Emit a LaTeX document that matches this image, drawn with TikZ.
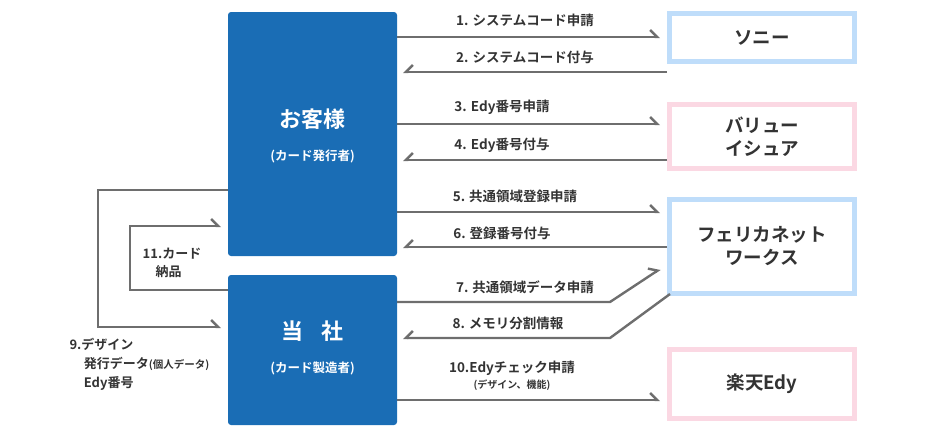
\documentclass[tikz,border=0pt]{standalone}
\usepackage{fontspec}
\setmainfont{Noto Sans CJK JP}[BoldFont={* Bold}]
\usetikzlibrary{arrows.meta}
\definecolor{corpblue}{HTML}{1A6DB5}
\definecolor{paleblue}{HTML}{BFDDFA}
\definecolor{palepink}{HTML}{FBD8E3}
\definecolor{linegray}{HTML}{6E6E6E}
\definecolor{textgray}{HTML}{333333}
\tikzset{
  mainbox/.style={fill=corpblue, rounded corners=3pt, text=white, font=\bfseries, align=center},
  partner/.style={draw=#1, line width=5pt, fill=white, minimum width=185pt, text=textgray, font=\bfseries\fontsize{18.5}{23}\selectfont, align=center},
  flow/.style={draw=linegray, line width=2.4pt},
  toR/.style={flow, -{Straight Barb[left, length=7pt, width=14pt, line width=2.4pt]}},
  toL/.style={flow, -{Straight Barb[right, length=7pt, width=14pt, line width=2.4pt]}},
  lbl/.style={text=textgray, font=\bfseries\fontsize{13.5}{17}\selectfont, align=center}
}
\begin{document}
\begin{tikzpicture}[x=1pt, y=-1pt]
  \useasboundingbox (0,0) rectangle (940,440);
  % main boxes
  \node (client) [mainbox, minimum width=169pt, minimum height=244pt] at (312.5,134) {};
  \node at (312.5,119) [text=white, font=\bfseries\fontsize{22}{26}\selectfont] {お客様};
  \node at (312.5,156) [text=white, font=\bfseries\fontsize{12.5}{15}\selectfont] {(カード発行者)};
  \node (maker) [mainbox, minimum width=169pt, minimum height=150pt] at (312.5,350) {};
  \node at (312.5,331) [text=white, font=\bfseries\fontsize{22}{26}\selectfont] {当\hspace{0.8em}社};
  \node at (312.5,368) [text=white, font=\bfseries\fontsize{12.5}{15}\selectfont] {(カード製造者)};
  % partners
  \node (sony) [partner=paleblue, minimum height=48pt] at (762,37.5) {ソニー};
  \node (value) [partner=palepink, minimum height=64pt] at (762,136.5) {バリュー\\イシュア};
  \node (felica) [partner=paleblue, minimum height=94pt] at (762,246.5) {フェリカネット\\ワークス};
  \node (edy) [partner=palepink, minimum height=69pt] at (762,384) {楽天Edy};
  % flows
  \coordinate (t1) at (660,37);  \coordinate (t2) at (403,72);
  \coordinate (t3) at (660,124); \coordinate (t4) at (403,160);
  \coordinate (t5) at (660,212); \coordinate (t6) at (403,247);
  \coordinate (t7) at (660,269); \coordinate (t8) at (403,338);
  \coordinate (t10) at (660,400);
  \draw [toR] (client.east |- t1) -- (t1);
  \draw [toL] (sony.west |- t2) -- (t2);
  \draw [toR] (client.east |- t3) -- (t3);
  \draw [toL] (value.west |- t4) -- (t4);
  \draw [toR] (client.east |- t5) -- (t5);
  \draw [toL] (felica.west |- t6) -- (t6);
  \draw [toR] (maker.east |- 0,302) -- (610,302) -- (t7);
  \draw [toL] (670,294) -- (610,338) -- (t8);
  \draw [toR] (maker.east |- t10) -- (t10);
  \node [lbl] at (525,20) {1. システムコード申請};
  \node [lbl] at (525,57) {2. システムコード付与};
  \node [lbl] at (502,107) {3. Edy番号申請};
  \node [lbl] at (502,145) {4. Edy番号付与};
  \node [lbl] at (515,196) {5. 共通領域登録申請};
  \node [lbl] at (502,233) {6. 登録番号付与};
  \node [lbl] at (525,287) {7. 共通領域データ申請};
  \node [lbl] at (508,323) {8. メモリ分割情報};
  \node [lbl] at (512,368) {10.Edyチェック申請};
  \node [lbl, font=\bfseries\fontsize{10}{12}\selectfont] at (512,385) {(デザイン、機能)};
  % left loops
  \coordinate (r9) at (221,327);
  \coordinate (r11) at (221,226);
  \draw [toR] (client.west |- 0,190) -- (98,190) -- (98,327) -- (r9);
  \draw [toR] (maker.west |- 0,290) -- (130,290) -- (130,226) -- (r11);
  \node [lbl, align=left, font=\bfseries\fontsize{13}{18}\selectfont] at (172,263) {11.カード\\\hspace{1em}納品};
  \node [lbl, align=left, anchor=north west, font=\bfseries\fontsize{13}{19}\selectfont] at (66,335) {9.デザイン\\\hspace{1.1em}発行データ{\fontsize{10.5}{12}\selectfont(個人データ)}\\\hspace{1.1em}Edy番号};
\end{tikzpicture}
\end{document}
